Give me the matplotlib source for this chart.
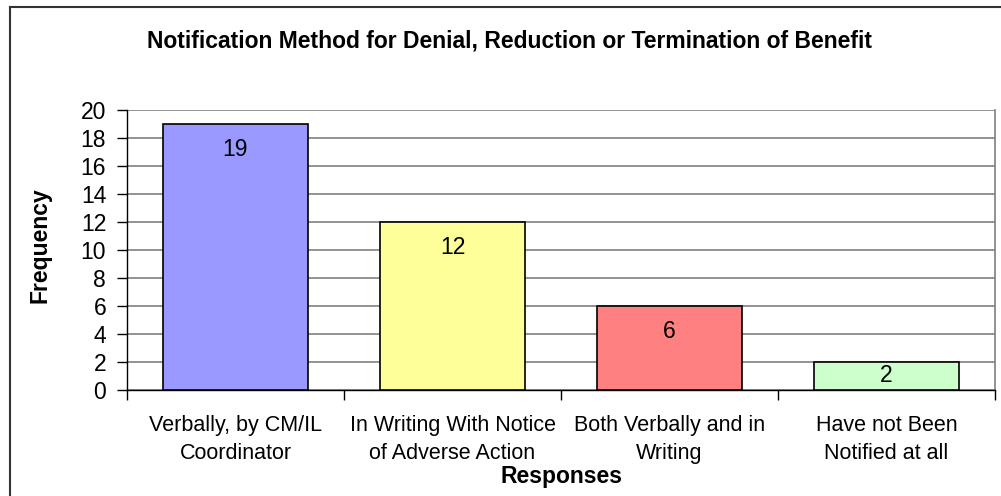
import matplotlib
matplotlib.use("Agg")
import matplotlib.pyplot as plt
from matplotlib.lines import Line2D

categories = ["Verbally, by CM/IL\nCoordinator",
              "In Writing With Notice\nof Adverse Action",
              "Both Verbally and in\nWriting",
              "Have not Been\nNotified at all"]
values = [19, 12, 6, 2]
colors = ["#9999FF", "#FFFF99", "#FF8080", "#CCFFCC"]
yticks = [0, 2, 4, 6, 8, 10, 12, 14, 16, 18, 20]

plt.rcParams['font.family'] = ['Liberation Sans', 'DejaVu Sans']

fig = plt.figure(figsize=(10.01, 4.96), dpi=100)
ax = fig.add_axes([127/1001, 1-390/496, (995-127)/1001, 280/496])

x = list(range(len(values)))
ax.bar(x, values, width=0.67, color=colors, edgecolor="black", linewidth=1.2, zorder=3)

ax.set_xlim(-0.5, len(values) - 0.5)
ax.set_ylim(0, 20)
ax.set_yticks(yticks)
ax.set_yticklabels([str(t) for t in yticks], fontsize=16.5)
ax.yaxis.grid(True, color="#808080", linewidth=1.2, zorder=0)

# category boundary ticks, labels at centres
ax.set_xticks([i - 0.5 for i in range(len(values) + 1)])
ax.set_xticklabels([""] * (len(values) + 1))
ax.set_xticks(x, minor=True)
ax.set_xticklabels(categories, minor=True, fontsize=15.5, linespacing=1.45)
ax.tick_params(axis="x", which="minor", length=0, pad=18)
ax.tick_params(axis="x", which="major", length=7, direction="out", width=1)
ax.tick_params(axis="y", length=7, direction="out", width=1, pad=8)

ax.spines["top"].set_visible(False)
ax.spines["right"].set_color("#808080")
ax.spines["right"].set_linewidth(1.2)
ax.spines["left"].set_linewidth(1.0)
ax.spines["bottom"].set_linewidth(1.0)

for xi, v in zip(x, values):
    ypos = max(v - 1.85, v / 2)
    ax.text(xi, ypos, str(v), ha="center", va="center", fontsize=16.5, zorder=4)

fig.text(40 / 1001, 1 - 245 / 496, "Frequency", ha="center", va="center",
         rotation=90, fontsize=16.5, fontweight="bold")
fig.text(561 / 1001, 1 - 476 / 496, "Responses", ha="center", va="center",
         fontsize=16.5, fontweight="bold")
fig.text(510 / 1001, 1 - 41 / 496,
         "Notification Method for Denial, Reduction or Termination of Benefit",
         ha="center", va="center", fontsize=16.5, fontweight="bold")

# outer chart-area frame (left and top edges visible)
fig.add_artist(Line2D([10/1001, 10/1001], [0, 1 - 7/496], transform=fig.transFigure,
                      color="#333333", linewidth=1.5))
fig.add_artist(Line2D([10/1001, 1], [1 - 7/496, 1 - 7/496], transform=fig.transFigure,
                      color="#333333", linewidth=1.5))

fig.savefig("out.png", dpi=100)
